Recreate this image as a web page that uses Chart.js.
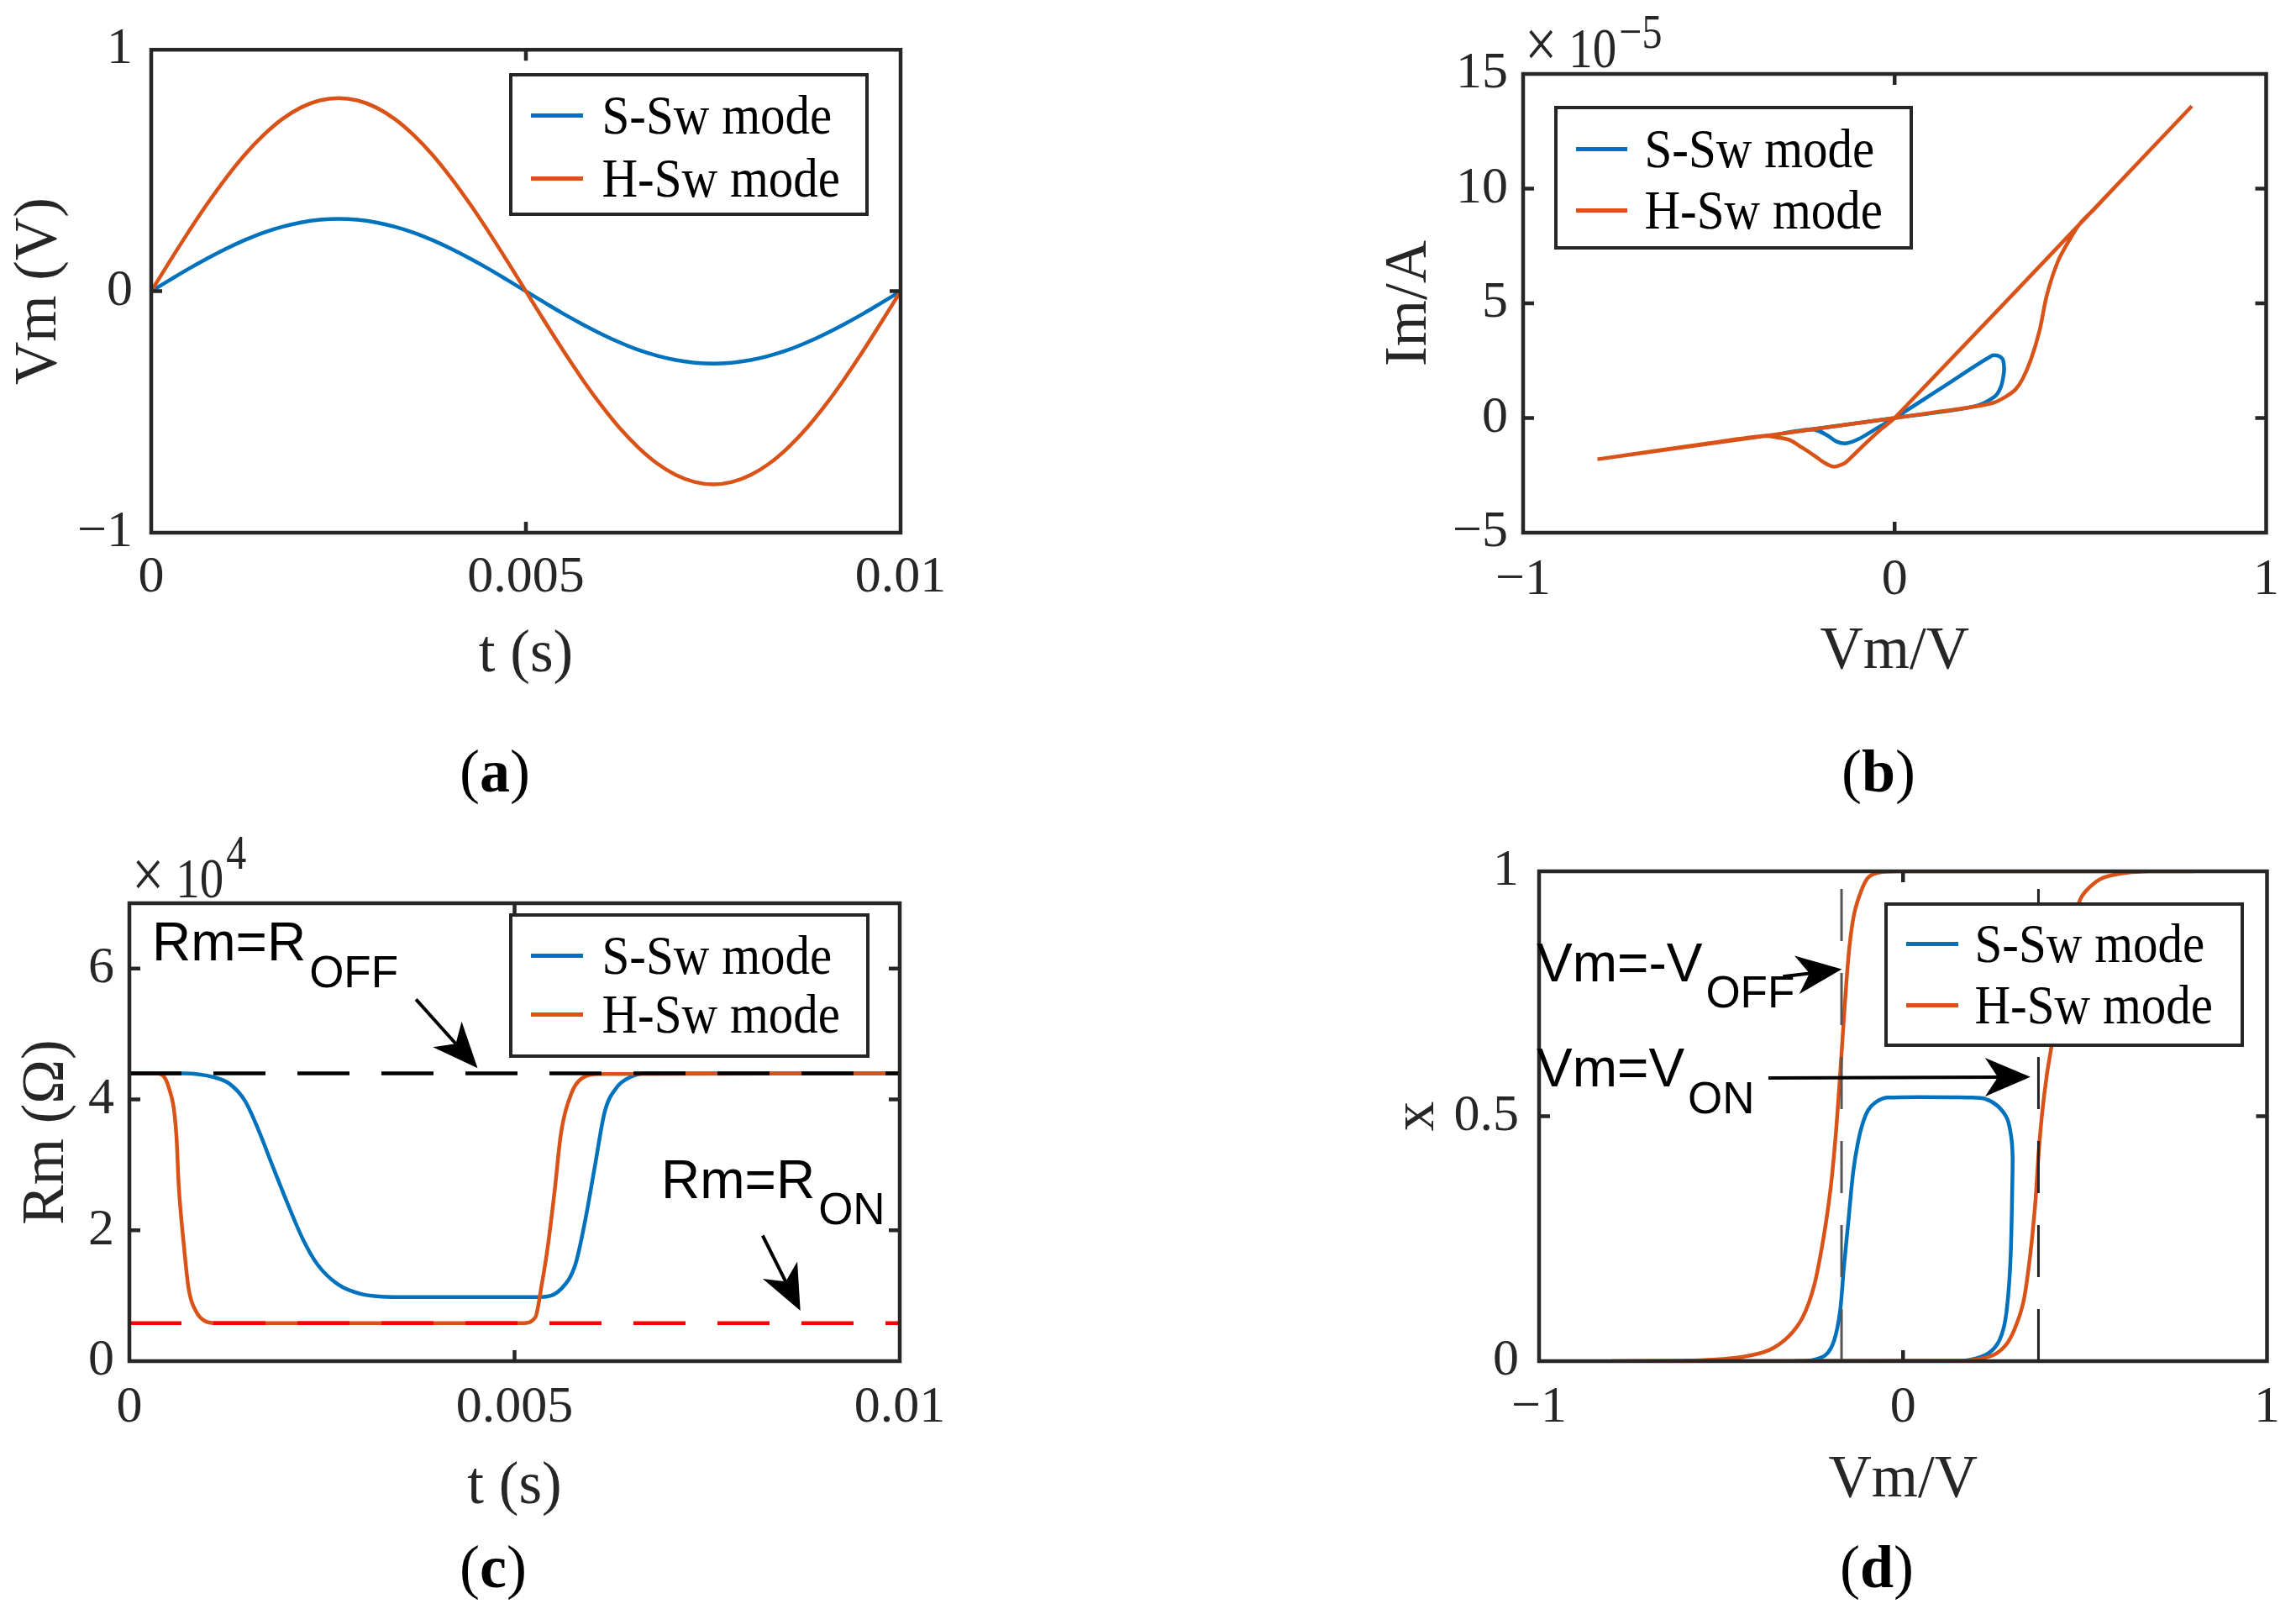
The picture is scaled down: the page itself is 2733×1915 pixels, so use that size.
<!DOCTYPE html>
<html lang="en">
<head>
  <meta charset="UTF-8">
  <title>Memristor S-Sw / H-Sw modes</title>
  <script src="https://cdn.jsdelivr.net/npm/chart.js"></script>
  <style>
    body { margin: 0; background: #fff; }
    #page { position: relative; width: 2733px; height: 1915px; overflow: hidden;
            font-family: 'Liberation Serif', 'Times New Roman', serif; color: #000; }
    canvas { position: absolute; }
    .legend { position: absolute; box-sizing: border-box; border: 4.5px solid #262626; background: #fff; }
    .legend .swatch { position: absolute; height: 4.5px; }
    .legend .txt { position: absolute; font-size: 59px; line-height: 1; white-space: nowrap;
                   transform: translateY(-50%) scaleY(1.1); }
    .note { position: absolute; font-family: 'Liberation Sans', Arial, sans-serif; font-size: 64px;
            line-height: 1; white-space: nowrap; color: #000; }
    .note span { position: relative; font-size: 53px; margin-left: 4px; }
    .exp { position: absolute; font-size: 57px; line-height: 1; white-space: nowrap; color: #262626;
           transform-origin: 0 48px; transform: scaleY(1.2); }
    .exp .times { font-size: 68px; }
    .exp .sp { display: inline-block; width: 14px; }
    .exp .sup { position: relative; font-size: 48px; margin-left: 3px; }
    .panel { position: absolute; font-size: 72px; line-height: 1; transform: translate(-50%, -50%); }
  </style>
</head>
<body>
<div id="page"></div>
<script>
  // series names / colours (MATLAB defaults)
  const seriesNames = ['S-Sw mode', 'H-Sw mode'];
  const BLUE = '#0072BD', ORANGE = '#D95319';
  const AXIS = '#262626';
  const SERIF = "'Liberation Serif', 'Times New Roman', serif";

  // (a) Vm vs t
  const tA = [0,0.00025,0.0005,0.00075,0.001,0.00125,0.0015,0.00175,0.002,0.00225,0.0025,0.00275,0.003,0.00325,0.0035,0.00375,0.004,0.00425,0.0045,0.00475,0.005,
              0.00525,0.0055,0.00575,0.006,0.00625,0.0065,0.00675,0.007,0.00725,0.0075,0.00775,0.008,0.00825,0.0085,0.00875,0.009,0.00925,0.0095,0.00975,0.01];
  const vmS_A = [0,0.047,0.093,0.136,0.176,0.212,0.243,0.267,0.285,0.296,0.300,0.296,0.285,0.267,0.243,0.212,0.176,0.136,0.093,0.047,0,
                 -0.047,-0.093,-0.136,-0.176,-0.212,-0.243,-0.267,-0.285,-0.296,-0.300,-0.296,-0.285,-0.267,-0.243,-0.212,-0.176,-0.136,-0.093,-0.047,0];
  const vmH_A = [0,0.125,0.247,0.363,0.470,0.566,0.647,0.713,0.761,0.790,0.800,0.790,0.761,0.713,0.647,0.566,0.470,0.363,0.247,0.125,0,
                 -0.125,-0.247,-0.363,-0.470,-0.566,-0.647,-0.713,-0.761,-0.790,-0.800,-0.790,-0.761,-0.713,-0.647,-0.566,-0.470,-0.363,-0.247,-0.125,0];
  const xTicksA = [0, 0.005, 0.01],  xLabelsA = ['0', '0.005', '0.01'];
  const yTicksA = [-1, 0, 1],        yLabelsA = ['\u22121', '0', '1'];

  // (b) Im (x1e-5 A) vs Vm
  const vmS_B = [-0.3,0,0.213,0.269,0.286,0.294,0.294,0.29,0.277,0.26,0.13,0,-0.053,-0.096,-0.129,-0.156,-0.18,-0.207,-0.232,-0.3];
  const imS_B = [-0.66,0,0.5,0.93,1.36,1.97,2.33,2.58,2.72,2.7,1.35,0,-0.5,-0.91,-1.1,-1.03,-0.77,-0.55,-0.5,-0.66];
  const vmH_B = [-0.8,0,0.1,0.2,0.265,0.298,0.325,0.345,0.367,0.39,0.41,0.44,0.47,0.5,0.54,0.58,0.8,0.58,0,-0.036,-0.078,-0.12,-0.138,-0.165,-0.19,-0.216,-0.25,-0.283,-0.318,-0.352,-0.5,-0.8];
  const imH_B = [-1.8,0,0.23,0.46,0.66,0.92,1.24,1.72,2.56,3.81,5.38,6.85,7.75,8.5,9.15,9.85,13.6,9.85,0,-0.48,-1.1,-1.76,-2.0,-2.12,-1.94,-1.64,-1.28,-0.96,-0.84,-0.78,-1.1,-1.8];
  const xTicksB = [-1, 0, 1],          xLabelsB = ['\u22121', '0', '1'];
  const yTicksB = [-5, 0, 5, 10, 15],  yLabelsB = ['\u22125', '0', '5', '10', '15'];

  // (c) Rm (x1e4 ohm) vs t
  const tS_C = [0,0.0007,0.0011,0.0013,0.0015,0.00167,0.00187,0.00206,0.00225,0.00244,0.0027,0.003,0.0035,0.00534,0.0056,0.00579,0.00592,0.00605,0.00617,0.00633,0.0065,0.0067,0.01];
  const rS_C = [4.40,4.40,4.34,4.24,3.98,3.55,2.95,2.39,1.87,1.48,1.18,1.03,0.98,0.98,1.10,1.48,2.17,3.03,3.81,4.19,4.34,4.40,4.40];
  const tH_C = [0,0.00035,0.00051,0.00061,0.00064,0.00071,0.00077,0.00087,0.00097,0.00113,0.00511,0.00527,0.00535,0.00543,0.00552,0.0056,0.00574,0.00587,0.00611,0.01];
  const rH_C = [4.40,4.40,4.19,3.46,2.70,1.74,1.10,0.75,0.62,0.58,0.58,0.67,1.15,1.74,2.60,3.46,4.10,4.32,4.39,4.40];
  const rOff = 4.4, rOn = 0.58;
  const xTicksC = [0, 0.005, 0.01], xLabelsC = ['0', '0.005', '0.01'];
  const yTicksC = [0, 2, 4, 6],     yLabelsC = ['0', '2', '4', '6'];

  // (d) state x vs Vm
  const vmS_D = [-0.3,0.16,0.227,0.26,0.279,0.289,0.296,0.3,0.301,0.297,0.286,0.26,0.227,0.189,-0.044,-0.076,-0.096,-0.111,-0.124,-0.137,-0.15,-0.163,-0.173,-0.189,-0.212,-0.251,-0.3];
  const xS_D  = [0,0.001,0.013,0.036,0.076,0.135,0.221,0.353,0.419,0.459,0.495,0.521,0.535,0.538,0.538,0.528,0.512,0.485,0.446,0.386,0.287,0.188,0.102,0.043,0.013,0.002,0];
  const vmH_D = [-0.8,0.16,0.24,0.279,0.305,0.331,0.35,0.363,0.372,0.382,0.395,0.408,0.43,0.455,0.486,0.512,0.55,0.615,0.68,0.8,0.68,-0.018,-0.07,-0.096,-0.115,-0.134,-0.147,-0.158,-0.167,-0.176,-0.186,-0.199,-0.218,-0.244,-0.276,-0.315,-0.367,-0.432,-0.522,-0.612,-0.8];
  const xH_D  = [0,0.001,0.01,0.03,0.063,0.122,0.221,0.32,0.419,0.505,0.584,0.644,0.76,0.86,0.941,0.967,0.987,0.997,1,1,1,1,0.997,0.987,0.96,0.914,0.848,0.749,0.65,0.551,0.452,0.353,0.254,0.155,0.089,0.05,0.023,0.01,0.003,0.001,0];
  const vOff = -0.169, vOn = 0.372;
  const xTicksD = [-1, 0, 1],   xLabelsD = ['\u22121', '0', '1'];
  const yTicksD = [0, 0.5, 1],  yLabelsD = ['0', '0.5', '1'];

  const page = document.getElementById('page');

  function pts(xs, ys) { return xs.map((v, i) => ({ x: v, y: ys[i] })); }

  function curve(label, xs, ys, color, smooth) {
    return {
      label, data: pts(xs, ys), showLine: true, borderColor: color, borderWidth: 4.5,
      pointRadius: 0, fill: false,
      ...(smooth === 'mono' ? { cubicInterpolationMode: 'monotone' } : { tension: smooth || 0 })
    };
  }
  function refLine(xs, ys, color, width) {
    return { label: 'ref', data: pts(xs, ys), showLine: true, borderColor: color, borderWidth: width,
             borderDash: [62, 38], pointRadius: 0, fill: false, tension: 0 };
  }

  // arrowhead like MATLAB's vback2
  function arrow(ctx, x0, y0, x1, y1) {
    const ang = Math.atan2(y1 - y0, x1 - x0);
    const L = 54, W = 23, N = 0.72 * L;
    const c = Math.cos(ang), s = Math.sin(ang);
    ctx.beginPath();
    ctx.moveTo(x0, y0);
    ctx.lineTo(x1 - N * c, y1 - N * s);
    ctx.stroke();
    ctx.beginPath();
    ctx.moveTo(x1, y1);
    ctx.lineTo(x1 - L * c - W * s, y1 - L * s + W * c);
    ctx.lineTo(x1 - N * c, y1 - N * s);
    ctx.lineTo(x1 - L * c + W * s, y1 - L * s - W * c);
    ctx.closePath();
    ctx.fill();
  }

  const boxPlugin = {
    id: 'matlabBox',
    afterDatasetsDraw(chart, args, opts) {
      const { ctx, scales: { x, y } } = chart;
      ctx.save();
      ctx.strokeStyle = '#000'; ctx.fillStyle = '#000'; ctx.lineWidth = 4;
      (opts.arrows || []).forEach(a => arrow(ctx,
        x.getPixelForValue(a.from[0]), y.getPixelForValue(a.from[1]),
        x.getPixelForValue(a.to[0]), y.getPixelForValue(a.to[1])));
      ctx.restore();
    },
    afterDraw(chart) {
      const { ctx, chartArea: a, scales: { x, y } } = chart;
      const tl = 13;
      ctx.save();
      ctx.strokeStyle = AXIS; ctx.lineWidth = 4.5;
      ctx.beginPath();
      x.ticks.forEach(t => {
        const p = x.getPixelForValue(t.value);
        if (p < a.left + 3 || p > a.right - 3) return;
        ctx.moveTo(p, a.bottom); ctx.lineTo(p, a.bottom - tl);
        ctx.moveTo(p, a.top);    ctx.lineTo(p, a.top + tl);
      });
      y.ticks.forEach(t => {
        const p = y.getPixelForValue(t.value);
        if (p < a.top + 3 || p > a.bottom - 3) return;
        ctx.moveTo(a.left, p);  ctx.lineTo(a.left + tl, p);
        ctx.moveTo(a.right, p); ctx.lineTo(a.right - tl, p);
      });
      ctx.stroke();
      ctx.strokeRect(a.left, a.top, a.right - a.left, a.bottom - a.top);
      ctx.restore();
    }
  };

  function axisOpts(ax, isX, cfg) {
    return {
      type: 'linear', min: ax.min, max: ax.max,
      grid: { display: false, drawTicks: false }, border: { display: false },
      afterBuildTicks: s => { s.ticks = ax.ticks.map(v => ({ value: v })); },
      afterFit: s => { if (isX) s.height = cfg.h - cfg.area.b; else s.width = cfg.area.l; },
      ticks: { autoSkip: false, maxRotation: 0, minRotation: 0, padding: ax.tickPad, color: AXIS,
               font: { family: SERIF, size: 62 }, callback: (v, i) => ax.labels[i] },
      title: { display: true, text: ax.title, color: AXIS, font: { family: SERIF, size: 71 },
               padding: isX ? { top: 0, bottom: ax.titlePad } : { top: ax.titlePad, bottom: 0 } }
    };
  }

  function panel(cfg) {
    const cv = document.createElement('canvas');
    cv.width = cfg.w; cv.height = cfg.h;
    Object.assign(cv.style, { left: cfg.left + 'px', top: cfg.top + 'px', width: cfg.w + 'px', height: cfg.h + 'px' });
    page.appendChild(cv);
    return new Chart(cv, {
      type: 'scatter',
      data: { datasets: cfg.datasets },
      options: {
        responsive: false, animation: false, devicePixelRatio: 1,
        layout: { padding: { top: cfg.area.t, right: cfg.w - cfg.area.r, left: 0, bottom: 0 } },
        plugins: { legend: { display: false }, tooltip: { enabled: false }, matlabBox: { arrows: cfg.arrows || [] } },
        scales: { x: axisOpts(cfg.x, true, cfg), y: axisOpts(cfg.y, false, cfg) }
      },
      plugins: [boxPlugin]
    });
  }

  function legend(l, t, r, b, sx0, sx1, tx, rows) {
    const d = document.createElement('div');
    d.className = 'legend';
    Object.assign(d.style, { left: l + 'px', top: t + 'px', width: (r - l) + 'px', height: (b - t) + 'px' });
    const colors = [BLUE, ORANGE];
    seriesNames.forEach((name, i) => {
      const ry = rows[i] - t - 4.5;
      const sw = document.createElement('div');
      sw.className = 'swatch';
      Object.assign(sw.style, { left: (sx0 - l - 4.5) + 'px', width: (sx1 - sx0) + 'px', top: (ry - 2.25) + 'px', background: colors[i] });
      const tt = document.createElement('div');
      tt.className = 'txt';
      tt.textContent = name;
      Object.assign(tt.style, { left: (tx - l - 4.5) + 'px', top: ry + 'px' });
      d.appendChild(sw); d.appendChild(tt);
    });
    page.appendChild(d);
  }

  function html(cls, inner, left, top) {
    const d = document.createElement('div');
    d.className = cls; d.innerHTML = inner;
    Object.assign(d.style, { left: left + 'px', top: top + 'px' });
    page.appendChild(d);
  }
  // text with subscript, placed by baseline
  function note(main, sub, left, baseline, drop) {
    html('note', main + '<span style="top:' + drop + 'px">' + sub + '</span>', left, baseline - 54);
  }

  // ---- (a)
  panel({
    left: 0, top: 0, w: 1366, h: 900, area: { l: 180, t: 53, r: 1072, b: 634 },
    x: { min: 0, max: 0.01, ticks: xTicksA, labels: xLabelsA, title: 't (s)', tickPad: 17, titlePad: 77 },
    y: { min: -1, max: 1, ticks: yTicksA, labels: yLabelsA, title: 'Vm (V)', tickPad: 22, titlePad: 5 },
    datasets: [curve(seriesNames[1], tA, vmH_A, ORANGE, 0.4), curve(seriesNames[0], tA, vmS_A, BLUE, 0.4)]
  });

  // ---- (b)
  panel({
    left: 1366, top: 0, w: 1367, h: 900, area: { l: 447, t: 88, r: 1345, b: 634 },
    x: { min: -1, max: 1, ticks: xTicksB, labels: xLabelsB, title: 'Vm/V', tickPad: 20, titlePad: 81 },
    y: { min: -5, max: 15, ticks: yTicksB, labels: yLabelsB, title: 'Im/A', tickPad: 18, titlePad: 270 },
    datasets: [curve(seriesNames[1], vmH_B, imH_B, ORANGE, 0.3), curve(seriesNames[0], vmS_B, imS_B, BLUE, 0.3)]
  });

  // ---- (c)
  panel({
    left: 0, top: 957, w: 1366, h: 900, area: { l: 154, t: 118, r: 1071, b: 663 },
    x: { min: 0, max: 0.01, ticks: xTicksC, labels: xLabelsC, title: 't (s)', tickPad: 19, titlePad: 44 },
    y: { min: 0, max: 7, ticks: yTicksC, labels: yLabelsC, title: 'Rm (\u03A9)', tickPad: 18, titlePad: 14 },
    datasets: [
      refLine([0, 0.01], [rOff, rOff], '#000', 4.5),
      refLine([0, 0.01], [rOn, rOn], '#FF0000', 4.5),
      curve(seriesNames[1], tH_C, rH_C, ORANGE, 'mono'),
      curve(seriesNames[0], tS_C, rS_C, BLUE, 'mono')
    ],
    arrows: [{ from: [0.00372, 5.53], to: [0.00452, 4.48] }, { from: [0.00822, 1.92], to: [0.00871, 0.77] }]
  });

  // ---- (d)
  panel({
    left: 1366, top: 957, w: 1367, h: 900, area: { l: 466, t: 80, r: 1343, b: 663 },
    x: { min: -1, max: 1, ticks: xTicksD, labels: xLabelsD, title: 'Vm/V', tickPad: 19, titlePad: 52 },
    y: { min: 0, max: 1, ticks: yTicksD, labels: yLabelsD, title: 'x', tickPad: 24, titlePad: 279 },
    datasets: [
      refLine([vOff, vOff], [0, 1], '#555', 3),
      refLine([vOn, vOn], [0, 1], '#222', 3),
      curve(seriesNames[1], vmH_D, xH_D, ORANGE, 0.3),
      curve(seriesNames[0], vmS_D, xS_D, BLUE, 0.3)
    ],
    arrows: [{ from: [-0.33, 0.785], to: [-0.168, 0.8] }, { from: [-0.37, 0.578], to: [0.35, 0.58] }]
  });

  // legends
  legend(606, 87, 1034, 257, 632, 694, 717, [138, 213]);
  legend(1850, 126, 2277, 297, 1876, 1937, 1958, [178, 251]);
  legend(606, 1087, 1035, 1259, 632, 694, 717, [1138, 1208]);
  legend(2243, 1074, 2671, 1246, 2269, 2331, 2351, [1124, 1197]);

  // exponent labels
  html('exp', '<span class="times">\u00D7</span><span class="sp"></span>10<span class="sup" style="top:-19px">\u22125</span>', 1815, 21);
  html('exp', '<span class="times">\u00D7</span><span class="sp"></span>10<span class="sup" style="top:-28px">4</span>', 157, 1009);

  // annotations
  note('Rm=R', 'OFF', 181, 1143, 32);
  note('Rm=R', 'ON', 787, 1426, 31);
  note('Vm=-V', 'OFF', 1829, 1168, 31);
  note('Vm=V', 'ON', 1829, 1293, 32);

  // panel labels
  html('panel', '(<b>a</b>)', 589, 918);
  html('panel', '(<b>b</b>)', 2236, 918);
  html('panel', '(<b>c</b>)', 587, 1865);
  html('panel', '(<b>d</b>)', 2234, 1865);
</script>
</body>
</html>
